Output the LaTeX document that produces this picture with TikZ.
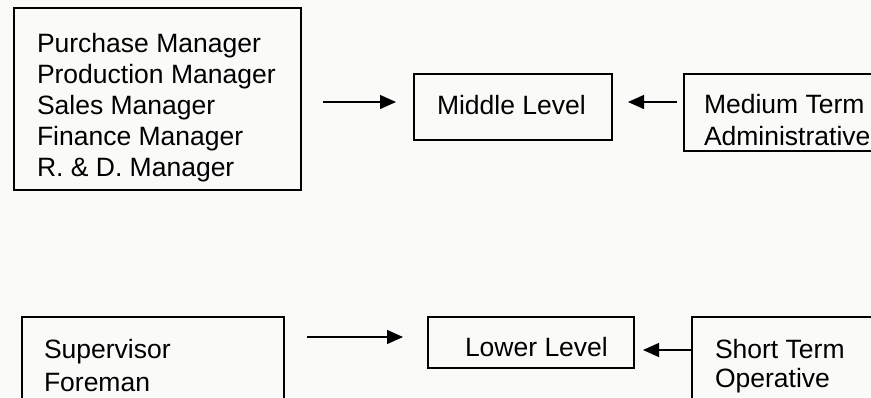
\documentclass[tikz,border=0pt]{standalone}
\usepackage{fontspec}
\setmainfont{Liberation Sans}
\usetikzlibrary{arrows.meta}
\definecolor{bgcol}{RGB}{250,250,248}
\begin{document}
\begin{tikzpicture}[x=1pt,y=-1pt,
  box/.style={draw=black, line width=1.6pt, anchor=north west, inner sep=0pt, outer sep=0pt},
  lbl/.style={anchor=base west, inner sep=0pt, outer sep=0pt, font=\fontsize{26.5}{31}\selectfont},
  arr/.style={line width=1.3pt, -{Triangle[length=16pt,width=14pt]}}]
\useasboundingbox (0,0) rectangle (871,397);
\fill[bgcol] (0,0) rectangle (871,397);
\clip (0,0) rectangle (871,397);
% boxes
\node[box, minimum width=287pt, minimum height=182pt] (top) at (14,8) {};
\node[box, minimum width=198pt, minimum height=66pt] (ml) at (414,74) {};
\node[box, minimum width=230pt, minimum height=77pt] (mt) at (684,74) {};
\node[box, minimum width=262pt, minimum height=110pt] (sup) at (22,317) {};
\node[box, minimum width=206pt, minimum height=51pt] (ll) at (428,317) {};
\node[box, minimum width=230pt, minimum height=110pt] (st) at (692,317) {};
% texts
\node[lbl] (t1) at (37,52) {Purchase Manager};
\node[lbl] (t2) at (37,83) {Production Manager};
\node[lbl] (t3) at (37,114) {Sales Manager};
\node[lbl] (t4) at (37,145) {Finance Manager};
\node[lbl] (t5) at (37,176) {R. \& D. Manager};
\node[lbl] (tml) at (437,114) {Middle Level};
\node[lbl] (tmt1) at (704,113) {Medium Term};
\node[lbl] (tmt2) at (704,145) {Administrative};
\node[lbl] (ts1) at (44,358) {Supervisor};
\node[lbl] (ts2) at (44,391) {Foreman};
\node[lbl] (tll) at (465,356) {Lower Level};
\node[lbl] (tst1) at (715,358) {Short Term};
\node[lbl] (tst2) at (715,387) {Operative};
% arrows
\draw[arr, shorten <=22pt, shorten >=18pt] ([yshift=5pt]ml.west -| top.east) -- ([yshift=5pt]ml.west);
\draw[arr, shorten <=7pt, shorten >=16pt] ([yshift=5pt]ml.east -| mt.west) -- ([yshift=5pt]ml.east);
\draw[arr, shorten <=23pt, shorten >=25pt] ([yshift=5.5pt]ll.west -| sup.east) -- ([yshift=5.5pt]ll.west);
\draw[arr, shorten <=0pt, shorten >=9pt] ([yshift=-7.5pt]ll.east -| st.west) -- ([yshift=-7.5pt]ll.east);
\end{tikzpicture}
\end{document}
